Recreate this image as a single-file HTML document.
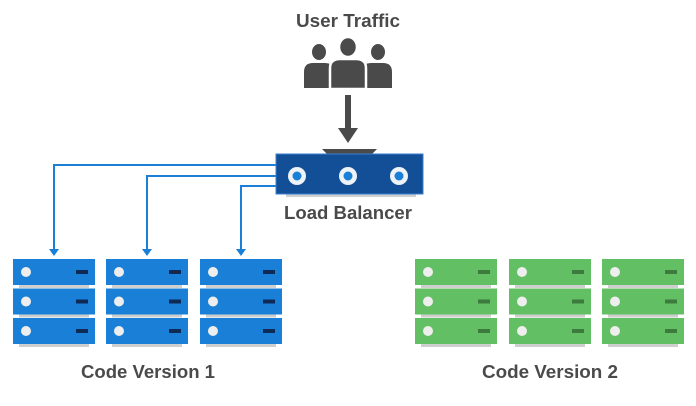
<!DOCTYPE html>
<html><head><meta charset="utf-8"><style>
body{margin:0;background:#fff;width:696px;height:401px;overflow:hidden}
text{font-family:"Liberation Sans",sans-serif;font-weight:bold;fill:#4a4a4a}
</style></head><body>
<svg width="696" height="401" viewBox="0 0 696 401" xmlns="http://www.w3.org/2000/svg">
<defs>
<g id="sb">
 <rect x="6" y="26" width="70" height="3" fill="#cfcfcf"/>
 <rect x="0" y="0" width="82" height="26" fill="#1a7fd6"/>
 <circle cx="13" cy="13" r="5" fill="#eee"/>
 <rect x="63" y="11" width="12" height="4" fill="#0f2a55"/>
</g>
<g id="sg">
 <rect x="6" y="26" width="70" height="3" fill="#cfcfcf"/>
 <rect x="0" y="0" width="82" height="26" fill="#63bf63"/>
 <circle cx="13" cy="13" r="5" fill="#eee"/>
 <rect x="63" y="11" width="12" height="4" fill="#3d7a3d"/>
</g>
<g id="cb"><use href="#sb" y="0"/><use href="#sb" y="29.5"/><use href="#sb" y="59"/></g>
<g id="cg"><use href="#sg" y="0"/><use href="#sg" y="29.5"/><use href="#sg" y="59"/></g>
</defs>
<text x="348" y="27" font-size="18" text-anchor="middle" textLength="104" lengthAdjust="spacingAndGlyphs">User Traffic</text>
<!-- people -->
<g fill="#4a4a4a">
 <ellipse cx="319" cy="52" rx="7" ry="8"/>
 <path d="M304 88 V72 Q304 63 313 63 H325 Q330 63 332 66 V88 Z"/>
 <ellipse cx="378" cy="52" rx="7" ry="8"/>
 <path d="M392 88 V72 Q392 63 383 63 H371 Q366 63 364 66 V88 Z"/>
</g>
<g fill="#4a4a4a" stroke="#fff" stroke-width="2.5">
 <ellipse cx="348" cy="47" rx="9" ry="10"/>
 <path d="M330 89 V68 Q330 59 340 59 H356 Q366 59 366 68 V89 Z"/>
</g>
<rect x="345" y="95" width="6" height="34" fill="#4a4a4a"/>
<polygon points="338,128 358,128 348,143" fill="#4a4a4a"/>
<!-- connectors -->
<g stroke="#1a7fd6" stroke-width="2" fill="none">
 <polyline points="277,165 54,165 54,250"/>
 <polyline points="277,176 147,176 147,250"/>
 <polyline points="277,186 241,186 241,250"/>
</g>
<g fill="#1a7fd6">
 <polygon points="49,249 59,249 54,256"/>
 <polygon points="142,249 152,249 147,256"/>
 <polygon points="236,249 246,249 241,256"/>
</g>
<!-- LB -->
<polygon points="322,149 377,149 372,154 327,154" fill="#4a4a4a"/>
<rect x="286" y="194" width="130" height="3" fill="#cfcfcf"/>
<rect x="276" y="154" width="147" height="40" fill="#134f96" stroke="#3a7fd0" stroke-width="1"/>
<g fill="#eef3f8"><circle cx="297" cy="176" r="9"/><circle cx="348" cy="176" r="9"/><circle cx="399" cy="176" r="9"/></g>
<g fill="#1a7fd6"><circle cx="297" cy="176" r="4.5"/><circle cx="348" cy="176" r="4.5"/><circle cx="399" cy="176" r="4.5"/></g>
<text x="348" y="219" font-size="18" text-anchor="middle" textLength="128" lengthAdjust="spacingAndGlyphs">Load Balancer</text>
<!-- servers -->
<use href="#cb" x="13" y="259"/><use href="#cb" x="106" y="259"/><use href="#cb" x="200" y="259"/>
<use href="#cg" x="415" y="259"/><use href="#cg" x="509" y="259"/><use href="#cg" x="602" y="259"/>
<text x="148" y="378" font-size="18" text-anchor="middle" textLength="134" lengthAdjust="spacingAndGlyphs">Code Version 1</text>
<text x="550" y="378" font-size="18" text-anchor="middle" textLength="136" lengthAdjust="spacingAndGlyphs">Code Version 2</text>
</svg>
</body></html>
